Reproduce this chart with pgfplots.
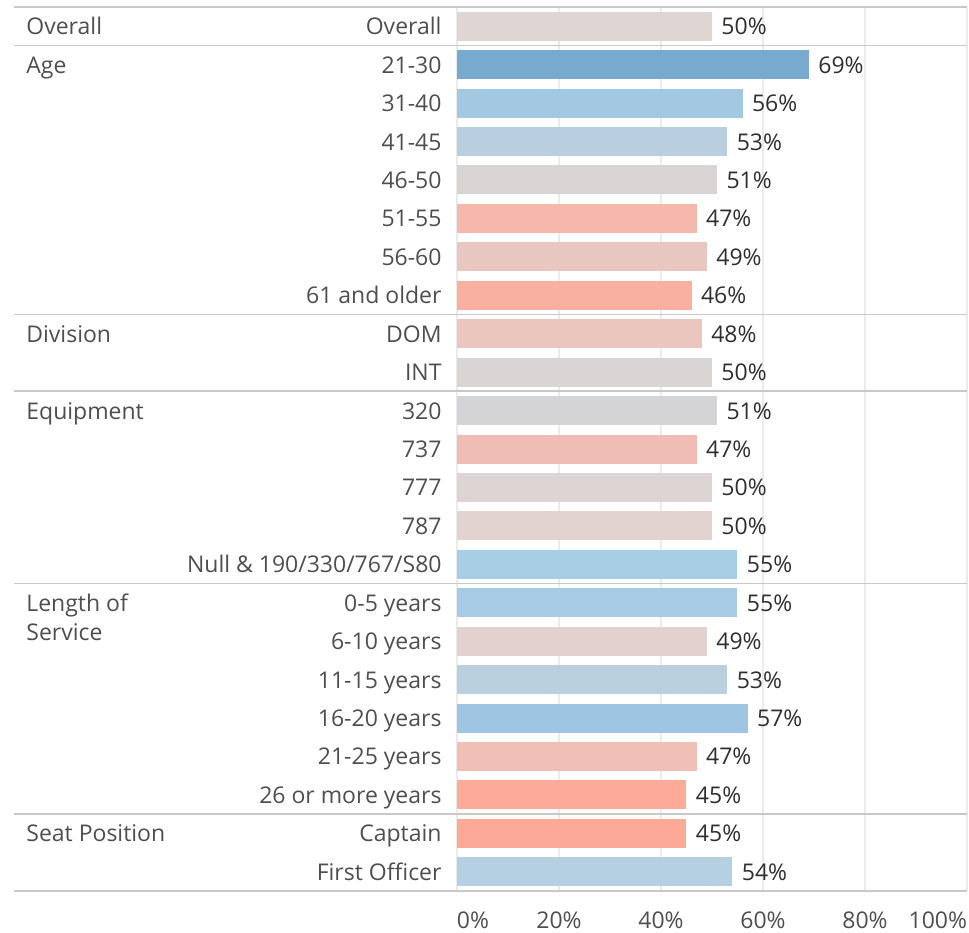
\documentclass[border=0pt]{standalone}
\usepackage{pgfplots}
\pgfplotsset{compat=1.18}
\usepackage{fontspec}
\setmainfont{Open Sans}

% bar colours, one per row (diverging around 50%)
\definecolor{c0}{HTML}{DFD5D3}
\definecolor{c1}{HTML}{78AAD0}
\definecolor{c2}{HTML}{A2C8E2}
\definecolor{c3}{HTML}{B9CFDF}
\definecolor{c4}{HTML}{D8D4D4}
\definecolor{c5}{HTML}{F4B8AD}
\definecolor{c6}{HTML}{E8C7C0}
\definecolor{c7}{HTML}{F9B0A1}
\definecolor{c8}{HTML}{EBC6BF}
\definecolor{c9}{HTML}{D9D5D5}
\definecolor{c10}{HTML}{D4D4D6}
\definecolor{c11}{HTML}{EFBDB3}
\definecolor{c12}{HTML}{DDD5D3}
\definecolor{c13}{HTML}{E2D3D1}
\definecolor{c14}{HTML}{A8CEE6}
\definecolor{c15}{HTML}{A7CBE4}
\definecolor{c16}{HTML}{E2D1CF}
\definecolor{c17}{HTML}{BAD0DE}
\definecolor{c18}{HTML}{9EC5E2}
\definecolor{c19}{HTML}{F0BFB6}
\definecolor{c20}{HTML}{FDAA99}
\definecolor{c21}{HTML}{FCA998}
\definecolor{c22}{HTML}{B4D0E2}
\definecolor{labelgray}{HTML}{4E4E4E}
\definecolor{valgray}{HTML}{2E2E2E}
\definecolor{sepgray}{HTML}{C8C8C8}

\begin{document}
\begin{tikzpicture}
\begin{axis}[
  scale only axis, width=255pt, height=442pt,
  font=\fontsize{11.5}{13}\selectfont,
  xbar, xmin=0, xmax=100, ymin=-0.5, ymax=22.5, y dir=reverse,
  clip=false,
  axis line style={draw=none},
  major tick length=0pt,
  xmajorgrids, grid style={color=black!8, line width=0.6pt},
  xtick={0,20,40,60,80,100},
  xticklabels={\hphantom{0\%}0\%,20\%,40\%,60\%,80\%,100\%\hphantom{100\%}},
  xticklabel style={color=labelgray, yshift=-6.7pt},
  ytick={0,...,22},
  yticklabels={Overall,21-30,31-40,41-45,46-50,51-55,56-60,61 and older,
    DOM,INT,320,737,777,787,Null \& 190/330/767/S80,
    0-5 years,6-10 years,11-15 years,16-20 years,21-25 years,26 or more years,
    Captain,First Officer},
  yticklabel style={color=labelgray, xshift=-4.2pt, text height=8.5pt, text depth=0pt},
  /pgf/number format/assume math mode=true,
  point meta=x,
  nodes near coords={\pgfmathprintnumber[fixed,precision=0]{\pgfplotspointmeta}\%},
  every node near coord/.append style={color=valgray, xshift=1.2pt, text height=8.5pt, text depth=0pt},
  every axis plot/.append style={bar width=14.5pt, bar shift=0pt, draw=none},
]
\addplot[fill=c0]  coordinates {(50,0)};
\addplot[fill=c1]  coordinates {(69,1)};
\addplot[fill=c2]  coordinates {(56,2)};
\addplot[fill=c3]  coordinates {(53,3)};
\addplot[fill=c4]  coordinates {(51,4)};
\addplot[fill=c5]  coordinates {(47,5)};
\addplot[fill=c6]  coordinates {(49,6)};
\addplot[fill=c7]  coordinates {(46,7)};
\addplot[fill=c8]  coordinates {(48,8)};
\addplot[fill=c9]  coordinates {(50,9)};
\addplot[fill=c10] coordinates {(51,10)};
\addplot[fill=c11] coordinates {(47,11)};
\addplot[fill=c12] coordinates {(50,12)};
\addplot[fill=c13] coordinates {(50,13)};
\addplot[fill=c14] coordinates {(55,14)};
\addplot[fill=c15] coordinates {(55,15)};
\addplot[fill=c16] coordinates {(49,16)};
\addplot[fill=c17] coordinates {(53,17)};
\addplot[fill=c18] coordinates {(57,18)};
\addplot[fill=c19] coordinates {(47,19)};
\addplot[fill=c20] coordinates {(45,20)};
\addplot[fill=c21] coordinates {(45,21)};
\addplot[fill=c22] coordinates {(54,22)};

% group separators
\pgfplotsinvokeforeach{-0.5,0.5,7.5,9.5,14.5,20.5,22.5}{
  \draw[sepgray, line width=0.9pt] ([xshift=-221.5pt]axis cs:0,#1) -- (axis cs:100,#1);
}
% group headers
\begin{scope}[every node/.style={anchor=west, inner sep=0pt, color=labelgray, text height=8.5pt, text depth=0pt}]
\node at ([xshift=-215.5pt]axis cs:0,0) {Overall};
\node at ([xshift=-215.5pt]axis cs:0,1) {Age};
\node at ([xshift=-215.5pt]axis cs:0,8) {Division};
\node at ([xshift=-215.5pt]axis cs:0,10) {Equipment};
\node at ([xshift=-215.5pt]axis cs:0,15) {Length of};
\node at ([xshift=-215.5pt,yshift=-14.5pt]axis cs:0,15) {Service};
\node at ([xshift=-215.5pt]axis cs:0,21) {Seat Position};
\end{scope}
\end{axis}
\pgfresetboundingbox
\path (current axis.south west) ++(-228.5pt,-20.5pt) coordinate (bl);
\path (current axis.north east) ++(1pt,3.5pt) coordinate (tr);
\useasboundingbox (bl) rectangle (tr);
\end{tikzpicture}
\end{document}
